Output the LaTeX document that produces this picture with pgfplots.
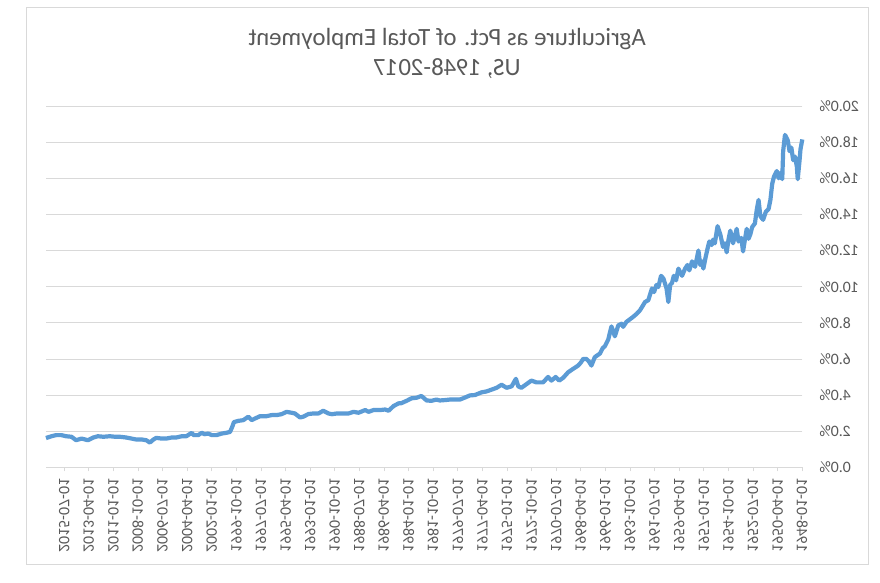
\documentclass[border=0pt]{standalone}
\usepackage{pgfplots}
\pgfplotsset{compat=1.18}
\usepackage{fontspec}
\setmainfont{Carlito}
\definecolor{linec}{HTML}{5B9BD5}
\definecolor{gridc}{HTML}{D9D9D9}
\definecolor{textc}{HTML}{595959}
\begin{document}
\begin{tikzpicture}
\useasboundingbox (0,0) rectangle (880pt,582pt);
\fill[white] (0,0) rectangle (880pt,582pt);
\draw[gridc, line width=0.8pt] (26pt,574.3pt) rectangle (868.5pt,18pt);
\node[anchor=base, xscale=-1, text=textc, font=\fontsize{24.8}{30}\selectfont] at (447pt,536pt) {Agriculture as Pct. of Total Employment};
\node[anchor=base, xscale=-1, text=textc, font=\fontsize{24.8}{30}\selectfont] at (447pt,506pt) {US, 1948-2017};
\begin{axis}[
  at={(424.15pt,295.35pt)}, anchor=center,
  scale only axis, width=756.3pt, height=361.3pt,
  x dir=reverse,
  xmin=0, xmax=830, ymin=0, ymax=20,
  axis x line*=bottom, axis y line*=right,
  y axis line style={draw=none},
  x axis line style={draw=gridc, line width=0.8pt},
  ytick={0,2,...,20},
  yticklabels={0.0\%,2.0\%,4.0\%,6.0\%,8.0\%,10.0\%,12.0\%,14.0\%,16.0\%,18.0\%,20.0\%},
  ymajorgrids, grid style={gridc, line width=0.8pt},
  ytick style={draw=none},
  xtick={0,27,...,810},
  xticklabels={1948-01-01,1950-04-01,1952-07-01,1954-10-01,1957-01-01,1959-04-01,1961-07-01,1963-10-01,1966-01-01,1968-04-01,1970-07-01,1972-10-01,1975-01-01,1977-04-01,1979-07-01,1981-10-01,1984-01-01,1986-04-01,1988-07-01,1990-10-01,1993-01-01,1995-04-01,1997-07-01,1999-10-01,2002-01-01,2004-04-01,2006-07-01,2008-10-01,2011-01-01,2013-04-01,2015-07-01},
  xtick style={draw=gridc, line width=0.8pt},
  tick align=outside, major tick length=4pt,
  every tick label/.append style={text=textc, font=\fontsize{15.9}{19}\selectfont},
  yticklabel style={anchor=east, inner sep=0pt, xshift=13pt, xscale=-1},
  xticklabel style={anchor=east, inner sep=0pt, yshift=-7pt, xscale=-1, rotate=90},
  clip=false,
]
\addplot[linec, line width=4.2pt, line join=round] coordinates {
(0,18.15)(2,17.6)(3,17.0)(5,15.95)(6,16.65)(8,17.2)(10,17.0)(12,17.7)(14,17.5)(16,18.1)(19,18.4)(21,17.5)(22,15.95)
(24,16.3)(26,16.0)(28,16.4)(31,16.1)(33,15.7)(35,14.8)(37,14.3)(40,14.15)(43,13.7)(46,13.9)(48,14.8)
(50,14.25)(52,13.5)(55,13.3)(57,12.9)(59,12.65)(61,13.2)(63,12.6)(65,11.95)(67,12.7)(70,12.5)(72,13.2)(74,12.8)(76,12.4)
(79,13.1)(81,12.6)(83,11.9)(85,12.4)(87,12.2)(90,12.9)(93,13.35)(96,12.4)(98,12.6)(99.5,12.3)(102,12.5)(104,12.1)(106,11.65)(108.6,11.0)
(110,11.4)(112,11.2)(114,12.0)(116,11.5)(117.7,11.1)(121,11.4)(124,10.9)(126,11.2)(128.6,11.0)(132,10.6)(136,11.0)(138.5,10.35)(141,10.6)(143,10.2)
(145,10.1)(147,9.15)(149,9.9)(152.4,10.45)(155,10.6)(158,9.98)(160,10.1)(162.7,9.7)(165,9.9)(169,9.25)(172.6,9.15)(175,8.95)(178,8.7)
(181.7,8.5)(185.6,8.33)(189,8.2)(193,8.05)(196.6,7.78)(198.4,7.95)(202,7.85)(205.7,7.25)(209.4,7.8)(213,7.07)
(216.7,6.7)(219,6.6)(222,6.3)(227.7,6.1)(231.4,5.63)(234,5.85)(236.9,6.0)(240.5,6.0)(243,5.8)(246,5.63)(251.5,5.45)(257,5.26)(262.5,4.95)
(266.9,4.8)(270.6,5.0)(275.3,4.8)(279,5.0)(284.5,4.7)(291.8,4.7)(297.3,4.8)(302.8,4.6)(308.3,4.4)(311.7,4.48)
(314.3,4.9)(319,4.48)(324.5,4.4)(330,4.57)(335.5,4.4)(341,4.3)(346.5,4.2)(352,4.15)(359.3,4.0)(364.8,3.98)
(370.3,3.86)(375.8,3.75)(381.3,3.75)(386.8,3.75)(392.3,3.72)(397.8,3.7)(401.5,3.75)(407,3.68)(412.3,3.7)(418,3.95)
(423.3,3.85)(428.8,3.82)(434.3,3.68)(440,3.55)(443,3.54)(448.6,3.39)(454.1,3.13)(457.7,3.2)(463.2,3.17)(470.6,3.17)
(476,3.07)(479.7,3.17)(487,3.02)(492.5,3.07)(498,2.98)(503.5,2.98)(510.8,2.98)(516.3,2.94)(520,2.98)(525.7,3.13)
(531,2.98)(536.5,2.98)(542,2.95)(547.7,2.8)(551.3,2.76)(556.8,2.98)(560.5,3.02)(566,3.07)(571.5,2.94)(577,2.89)
(582.4,2.89)(588,2.83)(595,2.83)(600.7,2.7)(604.3,2.61)(608,2.8)(613.5,2.61)(619,2.57)(623.8,2.5)(625.6,2.24)
(628,1.96)(632,1.91)(637,1.87)(643,1.78)(648,1.78)(652,1.87)(656,1.83)(659,1.91)(663,1.78)(668,1.78)
(670,1.91)(676,1.72)(681,1.72)(687,1.65)(692,1.65)(698,1.59)(703,1.59)(709,1.63)(712,1.54)(716,1.37)
(720,1.5)(725,1.54)(731,1.54)(736,1.59)(742,1.65)(749,1.69)(754,1.69)(760,1.72)(767,1.69)(773,1.72)
(778,1.65)(784,1.5)(791,1.59)(797,1.5)(802,1.69)(808,1.72)(813,1.78)(819,1.78)(824,1.72)(830,1.62)
};
\end{axis}
\end{tikzpicture}
\end{document}
